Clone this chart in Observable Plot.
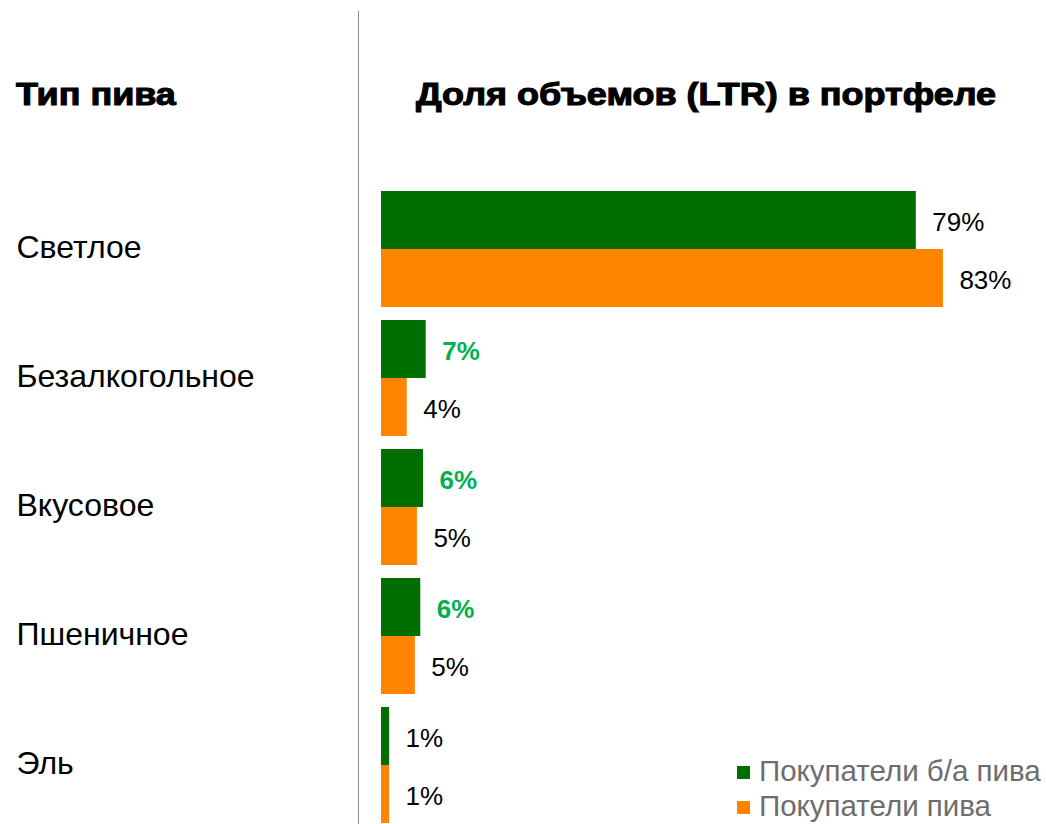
<!DOCTYPE html>
<html><head><meta charset="utf-8">
<script src="https://cdn.jsdelivr.net/npm/d3@7"></script>
<script src="https://cdn.jsdelivr.net/npm/@observablehq/plot@0.6"></script>
<style>
html,body{margin:0;padding:0;background:#fff;overflow:hidden}
#wrap{position:relative;width:1046px;height:824px}
#chart{position:absolute;left:0;top:0}
.hdr{position:absolute;font-family:"Liberation Sans",Arial,sans-serif;font-weight:bold;font-size:31px;color:#000;white-space:nowrap;-webkit-text-stroke:1.1px #000;transform-origin:0 0;transform:scaleX(1.16)}
#vline{position:absolute;left:358px;top:11px;width:0;height:813px;border-left:1.5px solid #8c8c8c}
#legend{position:absolute;left:737px;top:753px;font-family:"Liberation Sans",Arial,sans-serif;font-size:29.5px;color:#6d6d6d;line-height:35px;white-space:nowrap}
#legend .sw{display:inline-block;width:13px;height:13px;margin-right:9px;vertical-align:2px}
</style></head>
<body><div id="wrap">
<div id="vline"></div>
<div class="hdr" id="h1" style="left:16px;top:77px">Тип пива</div>
<div class="hdr" id="h2" style="left:416px;top:77px">Доля объемов (LTR) в портфеле</div>
<div id="chart"></div>
<div id="legend"></div>
</div>
<script>
const categories = ["Светлое","Безалкогольное","Вкусовое","Пшеничное","Эль"];
const seriesNames = ["Покупатели б/а пива","Покупатели пива"];
const nonAlcBuyers = [79, 6.6, 6.2, 5.8, 1.2];
const beerBuyers = [83, 3.8, 5.3, 5.0, 1.2];
const colors = ["#006f00","#ff8400"];

const data = [];
categories.forEach((c,i)=>{
  data.push({cat:c, series:seriesNames[0], value:nonAlcBuyers[i], other:beerBuyers[i]});
  data.push({cat:c, series:seriesNames[1], value:beerBuyers[i], other:nonAlcBuyers[i]});
});
const isHi = d => d.series===seriesNames[0] && Math.round(d.value) > Math.round(d.other);

const chart = Plot.plot({
  width:1046, height:824,
  marginTop:189, marginBottom:0, marginLeft:381, marginRight:0,
  x:{domain:[0,90], range:[381, 381+90*6.77], axis:null},
  y:{domain:seriesNames, padding:0, axis:null},
  fy:{domain:categories, paddingInner:0.093, paddingOuter:0, axis:null},
  color:{domain:seriesNames, range:colors},
  style:{fontFamily:"'Liberation Sans', Arial, sans-serif"},
  marks:[
    Plot.barX(data,{x:"value", y:"series", fy:"cat", fill:"series", inset:0}),
    Plot.text(data.filter(d=>!isHi(d)),{x:"value", y:"series", fy:"cat", text:d=>Math.round(d.value)+"%", dx:16, dy:2, textAnchor:"start", fontSize:26, fill:"#000"}),
    Plot.text(data.filter(isHi),{x:"value", y:"series", fy:"cat", text:d=>Math.round(d.value)+"%", dx:16, dy:2, textAnchor:"start", fontSize:26, fontWeight:"bold", fill:"#00b050"}),
    Plot.text(categories,{fy:d=>d, text:d=>d, frameAnchor:"left", dx:-365, dy:-1, textAnchor:"start", fontSize:32, fill:"#000"})
  ]
});
document.getElementById("chart").appendChild(chart);

const leg = document.getElementById("legend");
seriesNames.forEach((s,i)=>{
  const row=document.createElement("div");
  row.innerHTML=`<span class="sw" style="background:${colors[i]}"></span>${s}`;
  leg.appendChild(row);
});
</script>
</body></html>
